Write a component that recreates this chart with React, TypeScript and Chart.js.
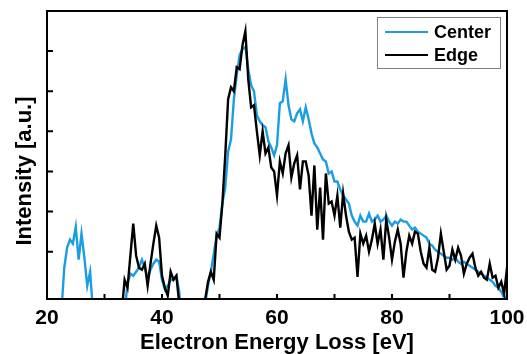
import React, { useEffect, useRef } from 'react';
import { Chart, registerables } from 'chart.js';

Chart.register(...registerables);

// Electron energy loss grid [eV]
const ENERGY = [
  20, 20.5, 21, 21.5, 22, 22.5, 23, 23.5, 24, 24.5,
  25, 25.5, 26, 26.5, 27, 27.5, 28, 28.5, 29, 29.5,
  30, 30.5, 31, 31.5, 32, 32.5, 33, 33.5, 34, 34.5,
  35, 35.5, 36, 36.5, 37, 37.5, 38, 38.5, 39, 39.5,
  40, 40.5, 41, 41.5, 42, 42.5, 43, 43.5, 44, 44.5,
  45, 45.5, 46, 46.5, 47, 47.5, 48, 48.5, 49, 49.5,
  50, 50.5, 51, 51.5, 52, 52.5, 53, 53.5, 54, 54.5,
  55, 55.5, 56, 56.5, 57, 57.5, 58, 58.5, 59, 59.5,
  60, 60.5, 61, 61.5, 62, 62.5, 63, 63.5, 64, 64.5,
  65, 65.5, 66, 66.5, 67, 67.5, 68, 68.5, 69, 69.5,
  70, 70.5, 71, 71.5, 72, 72.5, 73, 73.5, 74, 74.5,
  75, 75.5, 76, 76.5, 77, 77.5, 78, 78.5, 79, 79.5,
  80, 80.5, 81, 81.5, 82, 82.5, 83, 83.5, 84, 84.5,
  85, 85.5, 86, 86.5, 87, 87.5, 88, 88.5, 89, 89.5,
  90, 90.5, 91, 91.5, 92, 92.5, 93, 93.5, 94, 94.5,
  95, 95.5, 96, 96.5, 97, 97.5, 98, 98.5, 99, 99.5,
  100,
];

const CENTER = [
  -1, -1, -1, -1, -1, -0.5, 0.6, 1.1, 1.3, 1.2,
  1.62, 0.8, 1.45, 0.85, 0.15, 0.5, -0.5, -1, -1, -1,
  -1, -1, -1, -1, -1, -1, -1, -0.5, 0.2, 0.45,
  0.4, 0.5, 0.6, 0.8, 0.6, 0.35, 0.55, 0.7, 0.8, 0.75,
  0.3, 0.05, 0.15, 0.3, 0.3, 0.4, 0.0, -1, -1, -1,
  -1, -1, -1, -1, -1, -0.3, 0.15, 0.5, 0.95, 1.4,
  1.6, 2.2, 2.6, 3.5, 3.8, 4.8, 5.4, 5.9, 6.05, 6.1,
  5.55, 5.15, 5.0, 4.4, 4.25, 4.15, 4.1, 3.75, 3.6, 3.4,
  3.65, 4.7, 4.75, 5.3, 4.65, 4.3, 4.25, 4.45, 4.55, 4.25,
  4.6, 4.3, 3.95, 3.7, 3.6, 3.45, 3.3, 3.25, 2.95, 3.0,
  2.75, 2.75, 2.55, 2.4, 2.3, 2.2, 1.9, 1.75, 1.65, 1.9,
  1.75, 1.75, 1.95, 1.75, 1.8, 1.9, 1.75, 1.8, 1.9, 1.75,
  1.65, 1.75, 1.7, 1.8, 1.75, 1.75, 1.65, 1.55, 1.6, 1.5,
  1.45, 1.4, 1.35, 1.2, 1.15, 1.05, 1.0, 0.95, 0.9, 0.85,
  0.85, 0.8, 0.85, 0.75, 0.7, 0.75, 0.7, 0.65, 0.6, 0.55,
  0.5, 0.45, 0.4, 0.35, 0.3, 0.25, 0.15, 0.1, 0.0, -0.15,
  -0.1,
];

const EDGE = [
  -1, -1, -1, -1, -1, -1, -1, -1, -1, -1,
  -1, -1, -1, -1, -1, -1, -1, -1, -1, -1,
  -1, -1, -1, -1, -1, -1, -0.5, 0.3, 0.1, 0.9,
  1.7, 0.9, 0.6, 0.55, 0.7, 0.15, 0.7, 1.2, 1.65, 1.35,
  0.4, 0.1, -0.1, 0.5, 0.3, 0.4, -0.3, -1, -1, -1,
  -1, -1, -1, -1, -1, -0.2, 0.25, 0.5, 0.3, 1.45,
  1.35, 2.2, 3.4, 4.8, 5.1, 5.0, 5.6, 5.55, 6.15, 6.5,
  5.3, 4.6, 4.65, 4.0, 3.4, 4.0, 3.45, 3.6, 3.1, 3.0,
  2.4, 3.25, 2.95, 3.45, 3.65, 2.85, 3.2, 3.4, 2.55, 3.25,
  3.25, 2.9, 1.9, 3.15, 1.55, 2.6, 1.3, 2.95, 2.2, 2.25,
  1.9, 2.4, 1.6, 2.45, 1.9, 1.5, 1.3, 1.35, 0.37, 1.45,
  1.2, 1.4, 1.0, 1.3, 1.7, 1.2, 1.55, 0.8, 1.8, 1.35,
  0.8, 1.25, 1.55, 1.2, 0.35, 1.0, 1.4, 1.2, 1.5, 1.45,
  1.0, 0.7, 0.6, 1.1, 0.55, 0.5, 0.85, 1.45, 1.0, 0.55,
  0.65, 1.05, 0.8, 1.1, 0.9, 0.45, 0.7, 0.85, 0.95, 0.6,
  0.4, 0.5, 0.35, 0.3, 0.7, 0.35, 0.4, 0.1, 0.25, -0.05,
  0.6,
];

const X_TICK_LABELS = [20, 40, 60, 80, 100];
const SERIES_LABELS = ['Center', 'Edge'];
const SERIES_COLORS = ['#1a9de3', '#000000'];
const X_TITLE = 'Electron Energy Loss [eV]';
const Y_TITLE = 'Intensity [a.u.]';

const FONT = "'Liberation Sans', Arial, sans-serif";

export default function App() {
  const ref = useRef<HTMLCanvasElement>(null);

  useEffect(() => {
    document.body.style.margin = '0';
    const canvas = ref.current;
    if (!canvas) return;

    const decorPlugin = {
      id: 'decor',
      afterDraw(chart: any) {
        const { ctx, chartArea } = chart;
        const { left, right, top, bottom } = chartArea;
        const xs = chart.scales.x;
        const ys = chart.scales.y;
        ctx.save();
        // frame
        ctx.strokeStyle = '#000';
        ctx.lineWidth = 2;
        ctx.strokeRect(left, top, right - left, bottom - top);
        // inward x ticks
        ctx.beginPath();
        xs.ticks.forEach((t: any) => {
          const px = xs.getPixelForValue(t.value);
          ctx.moveTo(px, bottom);
          ctx.lineTo(px, bottom - 5);
        });
        // inward y ticks
        ys.ticks.forEach((t: any) => {
          if (Math.abs(t.value - Math.round(t.value)) > 1e-6) return;
          const py = ys.getPixelForValue(t.value);
          ctx.moveTo(left, py);
          ctx.lineTo(left + 6, py);
        });
        ctx.stroke();

        // y title
        ctx.save();
        ctx.translate(25, 171);
        ctx.rotate(-Math.PI / 2);
        ctx.fillStyle = '#000';
        ctx.font = `bold 22px ${FONT}`;
        ctx.textAlign = 'center';
        ctx.textBaseline = 'middle';
        ctx.fillText(Y_TITLE, 0, 0);
        ctx.restore();

        // legend
        const lx = 377, ly = 17, lw = 123, lh = 51;
        ctx.fillStyle = '#fff';
        ctx.fillRect(lx, ly, lw, lh);
        ctx.strokeStyle = '#808080';
        ctx.lineWidth = 1;
        ctx.strokeRect(lx + 0.5, ly + 0.5, lw, lh);
        const rows = [32, 55];
        chart.data.datasets.forEach((ds: any, i: number) => {
          const y = rows[i];
          ctx.strokeStyle = ds.borderColor;
          ctx.lineWidth = 2;
          ctx.beginPath();
          ctx.moveTo(385, y);
          ctx.lineTo(428, y);
          ctx.stroke();
          ctx.fillStyle = '#000';
          ctx.font = `bold 18px ${FONT}`;
          ctx.textAlign = 'left';
          ctx.textBaseline = 'middle';
          ctx.fillText(ds.label, 434, y + 1);
        });
        ctx.restore();
      },
    };

    const chart = new Chart(canvas, {
      type: 'line',
      data: {
        datasets: [
          {
            label: SERIES_LABELS[0],
            data: ENERGY.map((x, i) => ({ x, y: CENTER[i] })),
            borderColor: SERIES_COLORS[0],
            borderWidth: 2.4,
            pointRadius: 0,
            tension: 0,
            order: 2,
          },
          {
            label: SERIES_LABELS[1],
            data: ENERGY.map((x, i) => ({ x, y: EDGE[i] })),
            borderColor: SERIES_COLORS[1],
            borderWidth: 2.4,
            pointRadius: 0,
            tension: 0,
            order: 1,
          },
        ],
      },
      options: {
        animation: false,
        responsive: false,
        devicePixelRatio: 1,
        layout: { padding: { top: 11, right: 20, left: 0, bottom: 0 } },
        plugins: {
          legend: { display: false },
          tooltip: { enabled: false },
        },
        scales: {
          x: {
            type: 'linear',
            min: 20,
            max: 100,
            grid: { display: false, drawTicks: false },
            border: { display: false },
            ticks: {
              stepSize: 10,
              autoSkip: false,
              maxRotation: 0,
              padding: 7,
              color: '#000',
              font: { family: FONT, size: 21, weight: 'bold' },
              callback: (v: any) => (X_TICK_LABELS.includes(Number(v)) ? String(v) : ''),
            },
            title: {
              display: true,
              text: X_TITLE,
              color: '#000',
              font: { family: FONT, size: 22, weight: 'bold', lineHeight: 1 },
              padding: { top: 0, bottom: 0 },
            },
            afterFit: (s: any) => {
              s.height = 55;
              s.paddingLeft = 0;
              s.paddingRight = 0;
            },
          },
          y: {
            min: -0.18,
            max: 7,
            grid: { display: false, drawTicks: false },
            border: { display: false },
            ticks: { stepSize: 1, display: false },
            afterFit: (s: any) => {
              s.width = 47;
            },
          },
        },
      },
      plugins: [decorPlugin],
    } as any);

    return () => chart.destroy();
  }, []);

  return (
    <div style={{ width: 527, height: 354, background: '#fff' }}>
      <canvas ref={ref} width={527} height={354} style={{ display: 'block' }} />
    </div>
  );
}
